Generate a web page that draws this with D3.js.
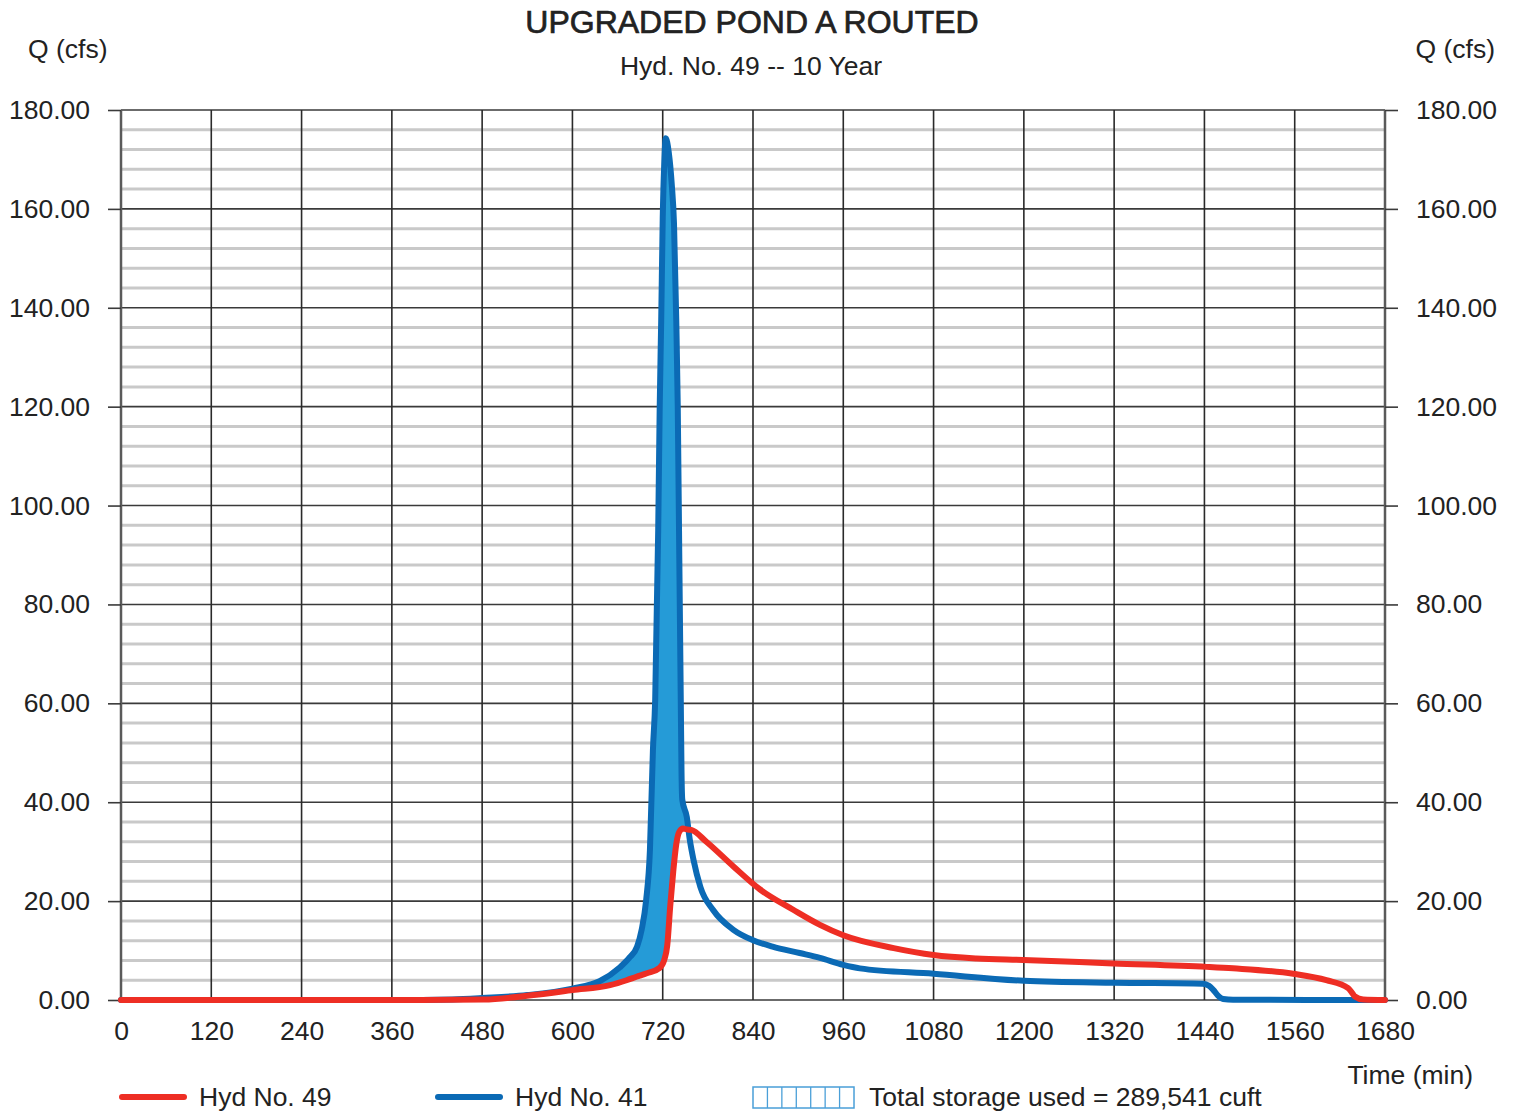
<!DOCTYPE html>
<html>
<head>
<meta charset="utf-8">
<script src="https://cdn.jsdelivr.net/npm/d3@7"></script>
<style>
  html, body { margin: 0; padding: 0; background: #fff; }
  svg { display: block; font-family: "Liberation Sans", Arial, sans-serif; }
</style>
</head>
<body>
<svg id="chart" width="1515" height="1112"></svg>
<script>
// Inflow hydrograph (Hyd No. 41): time in minutes, flow in cfs
const inflowTime = [0, 400, 440, 480, 540, 600, 636, 663, 676, 686, 692, 698, 703, 707, 710, 714, 716, 718, 720, 722, 724, 728, 732, 735, 738, 740, 742, 744, 745, 746, 752, 756, 761, 770, 787, 814, 840, 866, 902, 929, 960, 982, 1080, 1200, 1320, 1438, 1446, 1452, 1458, 1465, 1478, 1680];
const inflowQ    = [0, 0, 0.1, 0.4, 1.0, 2.3, 3.8, 6.6, 8.6, 10.8, 14.2, 20.2, 30.3, 50.6, 60.7, 95, 120, 137.5, 158, 169, 174.3, 171.5, 165, 157, 137.5, 120, 90, 60.7, 46, 40.5, 37, 32.4, 28.3, 22.9, 18.2, 14.2, 12.1, 10.8, 9.5, 8.5, 7.1, 6.4, 5.3, 3.9, 3.5, 3.3, 2.9, 2.0, 0.9, 0.2, 0.05, 0];

// Routed outflow hydrograph (Hyd No. 49)
const outflowTime = [0, 400, 482, 548, 600, 650, 672, 685, 699, 716, 722, 726, 730, 734, 738, 742, 747, 752, 758, 778, 814, 849, 894, 929, 960, 1027, 1080, 1137, 1199, 1319, 1443, 1478, 1558, 1602, 1631, 1636, 1640, 1651, 1680];
const outflowQ    = [0, 0, 0.1, 1.0, 2.0, 3.0, 4.0, 4.7, 5.4, 6.5, 8.1, 11.0, 19.0, 26.0, 31.5, 34.0, 34.7, 34.5, 34.4, 32.0, 27.0, 22.4, 18.2, 15.2, 13.1, 10.5, 9.1, 8.4, 8.1, 7.4, 6.7, 6.4, 5.3, 4.0, 2.4, 1.5, 0.7, 0.1, 0];

// Axis ticks
const yTicks = [0, 20, 40, 60, 80, 100, 120, 140, 160, 180];
const yMinorStep = 4;
const xTicks = [0, 120, 240, 360, 480, 600, 720, 840, 960, 1080, 1200, 1320, 1440, 1560, 1680];

const titleText = "UPGRADED POND A ROUTED";
const subtitleText = "Hyd. No. 49 -- 10 Year";
const legendLabels = ["Hyd No. 49", "Hyd No. 41", "Total storage used = 289,541 cuft"];

const RED = "#ee2e24", BLUE = "#0b6ab5", FILL = "#259bd7", INK = "#222";
const FS = 26.5;

const svg = d3.select("#chart");
const x = d3.scaleLinear().domain([0, 1680]).range([121, 1385]);
const y = d3.scaleLinear().domain([0, 180]).range([1000, 110]);

const inflow = inflowTime.map((t, i) => ({ t, q: inflowQ[i] }));
const outflow = outflowTime.map((t, i) => ({ t, q: outflowQ[i] }));

// linear lookup into a hydrograph
function lookup(series, t) {
  const i = d3.bisector(d => d.t).right(series, t);
  if (i <= 0) return series[0].q;
  if (i >= series.length) return series[series.length - 1].q;
  const a = series[i - 1], b = series[i];
  return a.q + (b.q - a.q) * (t - a.t) / (b.t - a.t);
}

// minor horizontal grid
const minorVals = d3.range(0, 181, yMinorStep).filter(v => v % 20 !== 0);
svg.append("g").selectAll("line").data(minorVals).join("line")
  .attr("x1", x(0)).attr("x2", x(1680))
  .attr("y1", d => y(d)).attr("y2", d => y(d))
  .attr("stroke", "#c9c9c9").attr("stroke-width", 3);

// major horizontal grid
svg.append("g").selectAll("line").data(yTicks).join("line")
  .attr("x1", x(0)).attr("x2", x(1680))
  .attr("y1", d => y(d)).attr("y2", d => y(d))
  .attr("stroke", "#3a3a3a").attr("stroke-width", 1.6);

// vertical grid
svg.append("g").selectAll("line").data(xTicks.slice(1, -1)).join("line")
  .attr("x1", d => x(d)).attr("x2", d => x(d))
  .attr("y1", y(180)).attr("y2", y(0))
  .attr("stroke", "#2a2a2a").attr("stroke-width", 1.6);

// frame sides
svg.append("line").attr("x1", x(0)).attr("x2", x(0)).attr("y1", y(180)).attr("y2", y(0))
  .attr("stroke", "#5a5a5a").attr("stroke-width", 2.5);
svg.append("line").attr("x1", x(1680)).attr("x2", x(1680)).attr("y1", y(180)).attr("y2", y(0))
  .attr("stroke", "#5a5a5a").attr("stroke-width", 2.5);

// axes
const fmt = d3.format(".2f");
const leftAxis = svg.append("g").attr("transform", `translate(${x(0)},0)`)
  .call(d3.axisLeft(y).tickValues(yTicks).tickFormat(fmt).tickSize(13).tickPadding(18));
const rightAxis = svg.append("g").attr("transform", `translate(${x(1680)},0)`)
  .call(d3.axisRight(y).tickValues(yTicks).tickFormat(fmt).tickSize(13).tickPadding(18));
const bottomAxis = svg.append("g").attr("transform", `translate(0,${y(0)})`)
  .call(d3.axisBottom(x).tickValues(xTicks).tickFormat(d3.format("d")).tickSize(0).tickPadding(21));

[leftAxis, rightAxis, bottomAxis].forEach(g => {
  g.select(".domain").remove();
  g.selectAll(".tick line").attr("stroke", "#3a3a3a").attr("stroke-width", 1.6);
  g.selectAll("text").attr("font-size", FS).attr("fill", INK)
    .attr("font-family", "'Liberation Sans', Arial, sans-serif");
});

// storage area between inflow and outflow
const grid = Array.from(new Set(inflowTime.concat(outflowTime)))
  .filter(t => t >= 540 && t <= 780).sort((a, b) => a - b);
const storage = grid.map(t => {
  const qi = lookup(inflow, t), qo = lookup(outflow, t);
  return { t, hi: qi, lo: Math.min(qi, qo) };
});
svg.append("path").datum(storage)
  .attr("d", d3.area().x(d => x(d.t)).y0(d => y(d.lo)).y1(d => y(d.hi)))
  .attr("fill", FILL);

// hydrograph lines
const line = d3.line().x(d => x(d.t)).y(d => y(d.q)).curve(d3.curveMonotoneX);
svg.append("path").datum(inflow).attr("d", line)
  .attr("fill", "none").attr("stroke", BLUE).attr("stroke-width", 6)
  .attr("stroke-linejoin", "round").attr("stroke-linecap", "round");
svg.append("path").datum(outflow).attr("d", line)
  .attr("fill", "none").attr("stroke", RED).attr("stroke-width", 6)
  .attr("stroke-linejoin", "round").attr("stroke-linecap", "round");

// titles
svg.append("text").attr("x", 752).attr("y", 33).attr("text-anchor", "middle")
  .attr("font-size", 32).attr("fill", INK).attr("stroke", INK).attr("stroke-width", 0.7)
  .text(titleText);
svg.append("text").attr("x", 751).attr("y", 75).attr("text-anchor", "middle")
  .attr("font-size", FS).attr("fill", INK).text(subtitleText);
svg.append("text").attr("x", 28).attr("y", 58).attr("font-size", FS).attr("fill", INK).text("Q (cfs)");
svg.append("text").attr("x", 1495).attr("y", 58).attr("text-anchor", "end").attr("font-size", FS).attr("fill", INK).text("Q (cfs)");
svg.append("text").attr("x", 1473).attr("y", 1084).attr("text-anchor", "end").attr("font-size", FS).attr("fill", INK).text("Time (min)");

// legend
const lg = svg.append("g");
lg.append("line").attr("x1", 122).attr("x2", 184).attr("y1", 1097).attr("y2", 1097)
  .attr("stroke", RED).attr("stroke-width", 6).attr("stroke-linecap", "round");
lg.append("text").attr("x", 199).attr("y", 1106).attr("font-size", FS).attr("fill", INK).text(legendLabels[0]);
lg.append("line").attr("x1", 438).attr("x2", 500).attr("y1", 1097).attr("y2", 1097)
  .attr("stroke", BLUE).attr("stroke-width", 6).attr("stroke-linecap", "round");
lg.append("text").attr("x", 515).attr("y", 1106).attr("font-size", FS).attr("fill", INK).text(legendLabels[1]);
const hx = 753, hy = 1087, hw = 101, hh = 21;
lg.append("rect").attr("x", hx).attr("y", hy).attr("width", hw).attr("height", hh)
  .attr("fill", "#fff").attr("stroke", "#4a9fd8").attr("stroke-width", 1.5);
lg.selectAll("line.hatch").data(d3.range(1, 7)).join("line").attr("class", "hatch")
  .attr("x1", d => hx + d * hw / 7).attr("x2", d => hx + d * hw / 7)
  .attr("y1", hy).attr("y2", hy + hh)
  .attr("stroke", "#4a9fd8").attr("stroke-width", 1.3);
lg.append("text").attr("x", 869).attr("y", 1106).attr("font-size", FS).attr("fill", INK).text(legendLabels[2]);
</script>
</body>
</html>
